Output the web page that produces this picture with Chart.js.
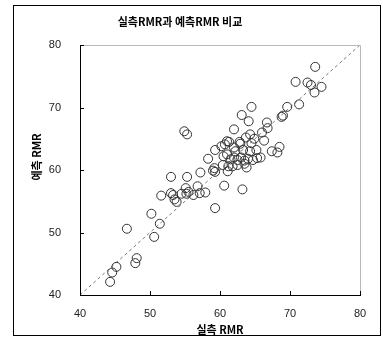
<!DOCTYPE html>
<html>
<head>
<meta charset="utf-8">
<style>
  body { margin: 0; background: #fff; }
</style>
<script src="https://cdn.jsdelivr.net/npm/chart.js@4.4.1/dist/chart.umd.min.js"></script>
</head>
<body>
<canvas id="rmrChart" width="383" height="339"></canvas>
<script>
const chartTitle = "실측RMR과 예측RMR 비교";
const xTitle = "실측 RMR";
const yTitle = "예측 RMR";
const axisTicks = [40, 50, 60, 70, 80];

const actualRMR = [
  44.3, 44.6, 45.2, 47.9, 48.1, 46.7, 50.6, 51.4, 50.2, 51.6,
  53.0, 53.3, 53.0, 53.8, 53.5, 54.5, 55.1, 55.2, 55.5, 56.2,
  56.8, 57.1, 57.9, 55.3, 57.2, 59.3, 59.0, 59.2, 61.1, 60.6,
  63.2, 59.3, 54.9, 55.3, 58.3, 59.3, 60.2, 60.5, 61.0, 60.4,
  61.2, 62.0, 63.1, 64.1, 64.5, 63.7, 64.3, 64.9, 62.9, 61.3,
  66.0, 66.7, 66.8, 66.3, 65.2, 65.3, 67.4, 68.2, 68.5, 69.0,
  68.8, 69.6, 71.3, 70.8, 72.5, 73.0, 73.5, 74.5, 73.6, 61.5,
  62.0, 62.5, 63.0, 63.5, 64.0, 62.2, 63.3, 64.3, 61.8, 62.5,
  63.5, 64.7, 62.8, 65.8, 61.0, 64.5, 62.0, 60.7, 63.8
];
const predictedRMR = [
  42.1, 43.6, 44.5, 45.1, 45.9, 50.6, 49.3, 51.4, 53.0, 55.9,
  56.3, 56.0, 58.9, 54.9, 55.3, 56.2, 57.1, 56.2, 56.5, 56.0,
  57.4, 56.3, 56.4, 58.9, 59.6, 59.7, 59.9, 60.3, 59.8, 57.5,
  56.9, 53.9, 66.2, 65.7, 61.8, 63.2, 63.8, 62.2, 64.6, 60.8,
  60.6, 66.5, 68.8, 67.8, 70.1, 65.2, 65.7, 65.0, 64.2, 64.5,
  66.0, 67.6, 66.7, 64.7, 63.2, 61.9, 63.0, 62.8, 63.7, 68.7,
  68.5, 70.1, 70.5, 74.1, 74.0, 73.6, 72.4, 73.3, 76.5, 61.7,
  62.0, 61.6, 62.0, 61.5, 61.8, 63.0, 63.2, 63.0, 60.6, 60.8,
  61.0, 61.6, 64.5, 62.0, 62.5, 64.3, 63.6, 64.1, 60.4
];
const refLine = [40, 80];

const points = actualRMR.map((x, i) => ({ x: x, y: predictedRMR[i] }));

// frame, grey top/right border, inward tick marks, y title
const decorations = {
  id: "decorations",
  afterDraw(chart) {
    const c = chart.ctx;
    const a = chart.chartArea;
    c.save();
    c.strokeStyle = "#000";
    c.lineWidth = 1;
    c.strokeRect(13.5, 5.5, 367, 330);

    c.strokeStyle = "#b8b8b8";
    c.beginPath();
    c.moveTo(a.left, a.top + 0.5);
    c.lineTo(a.right + 0.5, a.top + 0.5);
    c.lineTo(a.right + 0.5, a.bottom);
    c.stroke();

    c.strokeStyle = "#000";
    c.beginPath();
    const xs = chart.scales.x;
    const ys = chart.scales.y;
    xs.ticks.forEach(t => {
      const px = Math.round(xs.getPixelForValue(t.value)) + 0.5;
      c.moveTo(px, a.bottom);
      c.lineTo(px, a.bottom - 4);
    });
    ys.ticks.forEach(t => {
      const py = Math.round(ys.getPixelForValue(t.value)) + 0.5;
      c.moveTo(a.left, py);
      c.lineTo(a.left + 4, py);
    });
    c.stroke();

    // y axis title sits a bit above the plot middle in the original
    c.translate(37, 157);
    c.rotate(-Math.PI / 2);
    c.fillStyle = "#000";
    c.font = "bold 11px 'Noto Sans CJK KR', sans-serif";
    c.textAlign = "center";
    c.textBaseline = "middle";
    c.fillText(yTitle, 0, 0);
    c.restore();
  }
};

new Chart(document.getElementById("rmrChart"), {
  type: "scatter",
  data: {
    datasets: [
      {
        type: "line",
        data: refLine.map(v => ({ x: v, y: v })),
        borderColor: "#777",
        borderWidth: 1,
        borderDash: [3, 3],
        pointRadius: 0,
        fill: false,
        order: 2,
      },
      {
        data: points,
        pointStyle: "circle",
        pointRadius: 4.5,
        borderColor: "#333",
        backgroundColor: "rgba(0,0,0,0)",
        borderWidth: 1,
        order: 1,
      },
    ],
  },
  options: {
    responsive: false,
    animation: false,
    layout: { padding: { left: 0, right: 23, top: 0, bottom: 0 } },
    scales: {
      x: {
        type: "linear",
        min: axisTicks[0],
        max: axisTicks[axisTicks.length - 1],
        afterFit: s => { s.height = 44; },
        afterBuildTicks: s => { s.ticks = axisTicks.map(v => ({ value: v })); },
        grid: { display: true, drawOnChartArea: false, drawTicks: false },
        border: { color: "#000", width: 1 },
        ticks: {
          padding: 12,
          color: "#222",
          font: { family: "'Liberation Sans', Arial, sans-serif", size: 11 },
        },
        title: {
          display: true,
          text: xTitle,
          color: "#000",
          padding: { top: 0, bottom: 3 },
          font: { family: "'Noto Sans CJK KR', sans-serif", size: 11, weight: "bold" },
        },
      },
      y: {
        type: "linear",
        min: axisTicks[0],
        max: axisTicks[axisTicks.length - 1],
        afterFit: s => { s.width = 80; },
        afterBuildTicks: s => { s.ticks = axisTicks.map(v => ({ value: v })); },
        grid: { display: true, drawOnChartArea: false, drawTicks: false },
        border: { color: "#000", width: 1 },
        ticks: {
          padding: 19,
          color: "#222",
          font: { family: "'Liberation Sans', Arial, sans-serif", size: 11 },
        },
        title: { display: false },
      },
    },
    plugins: {
      legend: { display: false },
      tooltip: { enabled: false },
      title: {
        display: true,
        text: chartTitle,
        color: "#000",
        padding: { top: 15, bottom: 16.8 },
        font: { family: "'Noto Sans CJK KR', sans-serif", size: 11, weight: "bold", lineHeight: 1.2 },
      },
    },
  },
  plugins: [decorations],
});
</script>
</body>
</html>
